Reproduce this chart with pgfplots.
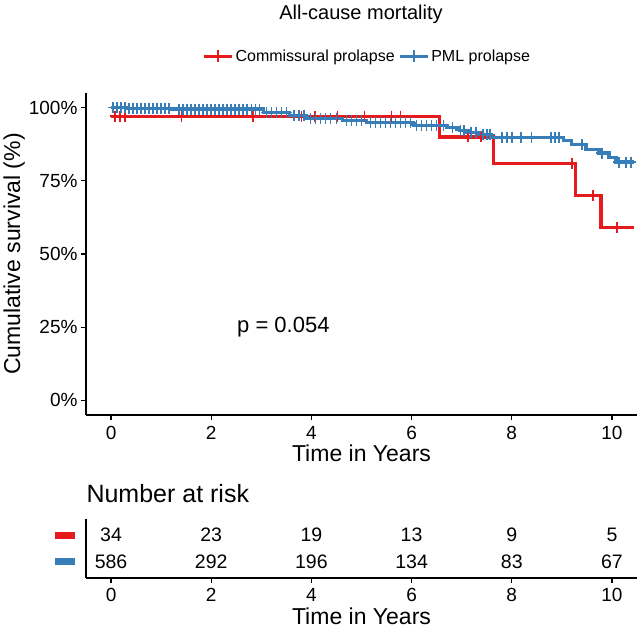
\documentclass[border=0pt]{standalone}
\usepackage{pgfplots}
\pgfplotsset{compat=1.18}
\usepackage{fontspec}
\setmainfont{Liberation Sans}
\definecolor{kmred}{HTML}{E41A1C}
\definecolor{kmblue}{HTML}{377EB8}
\begin{document}
\begin{tikzpicture}
\useasboundingbox (0pt,0pt) rectangle (640pt,629pt);
\node[font=\fontsize{20}{24}\selectfont] at (361pt,615pt) {All-cause mortality};
\begin{axis}[at={(86pt,214pt)}, anchor=south west, width=551pt, height=322pt, scale only axis,
  xmin=-0.5, xmax=10.5, ymin=-0.05, ymax=1.05,
  axis x line*=bottom, axis y line*=left,
  axis line style={line width=1.2pt, -},
  tick style={line width=1.1pt, black}, tick align=outside, major tick length=5pt,
  xtick={0,2,4,6,8,10}, ytick={0,0.25,0.5,0.75,1},
  yticklabels={0\%,25\%,50\%,75\%,100\%},
  ticklabel style={font=\fontsize{19}{22}\selectfont},
  xticklabel style={yshift=-3pt},
  /pgf/number format/assume math mode=true,
  xlabel={Time in Years}, ylabel={Cumulative survival (\%)},
  label style={font=\fontsize{23}{27}\selectfont},
  xlabel style={yshift=2pt},
  ylabel style={yshift=-3pt},
  legend style={at={(0.5,1)}, anchor=south, yshift=26pt, xshift=6pt, draw=none, fill=none,
    font=\fontsize{16}{19}\selectfont, legend columns=2,
    /tikz/every even column/.append style={column sep=2pt}},
  legend image code/.code={\draw[line width=2.6pt] (0pt,0pt) -- (28pt,0pt); \draw[line width=1.6pt] (14pt,-6pt) -- (14pt,6pt);},
  clip=false]
\addplot[const plot, kmred, line width=3.2pt] coordinates {
 (0,0.9706) (6.55,0.90) (7.63,0.81) (9.28,0.70) (9.78,0.59) (10.44,0.59)};
\addlegendentry{Commissural prolapse}
\addplot[const plot, kmblue, line width=3.2pt] coordinates {
 (0,1.0) (0.3,0.998) (1.2,0.995) (3.04,0.983) (3.57,0.972) (3.9,0.963) (4.62,0.956)
 (5.1,0.948) (6.04,0.94) (6.7,0.932) (6.95,0.923) (7.1,0.916) (7.35,0.908) (7.6,0.899)
 (9.04,0.888) (9.2,0.874) (9.48,0.857) (9.74,0.845) (9.94,0.83) (10.08,0.814) (10.44,0.814)};
\addlegendentry{PML prolapse}
\addplot[only marks, mark=+, mark size=5.5pt, kmred, mark options={line width=1.6pt}, forget plot] coordinates {
 (0.08,0.9706) (0.18,0.9706) (0.28,0.9706) (1.41,0.9706) (2.83,0.9706) (3.8,0.9706)
 (4.07,0.9706) (4.52,0.9706) (5.06,0.9706) (5.6,0.9706) (5.78,0.9706)
 (7.13,0.90) (7.39,0.90) (9.2,0.81) (9.62,0.70) (10.1,0.59)};
\addplot[only marks, mark=+, mark size=5.5pt, kmblue, mark options={line width=1.6pt}, forget plot] coordinates {
 (0.04,1.0) (0.12,1.0) (0.2,1.0) (0.28,1.0)
 (0.36,0.998) (0.44,0.998) (0.52,0.998) (0.6,0.998) (0.68,0.998) (0.76,0.998) (0.84,0.998)
 (0.92,0.998) (1.0,0.998) (1.08,0.998) (1.16,0.998)
 (1.36,0.995) (1.44,0.995) (1.52,0.995) (1.6,0.995) (1.68,0.995) (1.76,0.995) (1.84,0.995)
 (1.92,0.995) (2.0,0.995) (2.08,0.995) (2.16,0.995) (2.24,0.995) (2.32,0.995) (2.4,0.995)
 (2.48,0.995) (2.56,0.995) (2.64,0.995) (2.72,0.995) (2.8,0.995) (2.88,0.995) (2.96,0.995)
 (3.1,0.983) (3.2,0.983) (3.3,0.983) (3.4,0.983) (3.5,0.983)
 (3.65,0.972) (3.75,0.972) (3.85,0.972)
 (3.98,0.963) (4.08,0.963) (4.18,0.963) (4.28,0.963) (4.38,0.963) (4.5,0.963)
 (4.7,0.956) (4.8,0.956) (4.9,0.956) (5.0,0.956)
 (5.18,0.948) (5.28,0.948) (5.38,0.948) (5.48,0.948) (5.58,0.948) (5.68,0.948) (5.78,0.948)
 (5.88,0.948) (5.98,0.948)
 (6.1,0.94) (6.2,0.94) (6.3,0.94) (6.4,0.94) (6.5,0.94) (6.64,0.94)
 (6.82,0.932) (6.98,0.923) (7.05,0.923) (7.18,0.916) (7.28,0.916)
 (7.42,0.908) (7.5,0.908) (7.56,0.908)
 (7.81,0.899) (7.91,0.899) (8.01,0.899) (8.19,0.899) (8.39,0.899) (8.78,0.899) (8.86,0.899) (8.94,0.899)
 (9.4,0.874) (9.8,0.845) (10.14,0.814) (10.28,0.814) (10.38,0.814)};
\node[font=\fontsize{22}{26}\selectfont] at (axis cs:3.44,0.25) {p = 0.054};
\end{axis}
\node[font=\fontsize{25}{30}\selectfont, anchor=west] at (83pt,135pt) {Number at risk};
\begin{axis}[at={(86pt,51pt)}, anchor=south west, width=551pt, height=59pt, scale only axis,
  xmin=-0.5, xmax=10.5, ymin=0.4, ymax=2.6,
  axis x line*=bottom, axis y line*=left,
  axis line style={line width=1.2pt, -},
  tick style={line width=1.1pt, black}, tick align=outside, major tick length=5pt,
  y tick style={draw=none},
  xtick={0,2,4,6,8,10}, ytick={1,2},
  yticklabels={\textcolor{kmblue}{\rule{20pt}{7pt}},\textcolor{kmred}{\rule{20pt}{7pt}}},
  ticklabel style={font=\fontsize{19}{22}\selectfont},
  xticklabel style={yshift=-2pt},
  yticklabel style={xshift=-2pt},
  /pgf/number format/assume math mode=true,
  xlabel={Time in Years},
  label style={font=\fontsize{23}{27}\selectfont},
  xlabel style={yshift=1pt},
  clip=false]
\addplot[draw=none, forget plot] coordinates {(0,1) (10,2)};
\begin{scope}[every node/.style={font=\fontsize{19.5}{23}\selectfont}]
\node at (axis cs:0,2) {34};
\node at (axis cs:2,2) {23};
\node at (axis cs:4,2) {19};
\node at (axis cs:6,2) {13};
\node at (axis cs:8,2) {9};
\node at (axis cs:10,2) {5};
\node at (axis cs:0,1) {586};
\node at (axis cs:2,1) {292};
\node at (axis cs:4,1) {196};
\node at (axis cs:6,1) {134};
\node at (axis cs:8,1) {83};
\node at (axis cs:10,1) {67};
\end{scope}
\end{axis}
\end{tikzpicture}
\end{document}
